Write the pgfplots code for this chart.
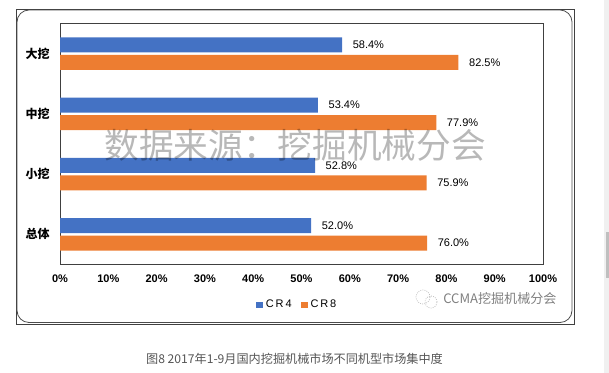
\documentclass[border=0pt]{standalone}
\usepackage{pgfplots}
\pgfplotsset{compat=1.18}
\usepackage{fontspec}
\setmainfont{Liberation Sans}
\newfontfamily\cjk{Noto Sans CJK SC}
\definecolor{cblue}{HTML}{4472C4}
\definecolor{corange}{HTML}{ED7D31}
\definecolor{frameC}{HTML}{404040}
\definecolor{capC}{HTML}{555555}
\begin{document}
\begin{tikzpicture}[x=0.75pt,y=0.75pt]
\useasboundingbox (0,0) rectangle (609,373);
% page scrollbar
\fill[black!6] (604,0) rectangle (609,373);
\fill[black!25] (606,95) rectangle (609,141);
% frame
\draw[frameC,line width=0.7pt] (16.5,49) rectangle (574.5,363.5);
\draw[black!70,line width=0.6pt,rounded corners=9pt] (17,50.5) rectangle (572,363);
\begin{axis}[
  at={(45pt,81.375pt)},anchor=south west,
  scale only axis,width=362.25pt,height=180.75pt,
  xmin=0,xmax=100,ymin=-0.5,ymax=3.5,
  y dir=reverse,
  xbar,bar width=11.25pt,
  axis line style={frameC,line width=0.7pt},
  tick style={draw=none},
  xtick={0,10,...,100},
  xticklabel={\pgfmathprintnumber[fixed,precision=0]{\tick}\%},
  ytick={0,1,2,3},
  yticklabels={大挖,中挖,小挖,总体},
  yticklabel style={font=\cjk\bfseries\fontsize{9}{10}\selectfont,xshift=0pt},
  xticklabel style={font=\bfseries\fontsize{8.25}{10}\selectfont,/pgf/number format/assume math mode=true,yshift=-4pt},
  /pgf/number format/assume math mode=true,
  nodes near coords={\pgfmathprintnumber[fixed,fixed zerofill,precision=1,assume math mode=true]{\pgfplotspointmeta}\%},
  every node near coord/.append style={font=\fontsize{8.25}{10}\selectfont,black,xshift=4.5pt},
  legend columns=2,
  legend style={at={(0.492,-0.168)},anchor=center,draw=none,fill=none,
    font=\fontsize{8.25}{10}\selectfont,/tikz/every even column/.append style={column sep=5pt}},
  legend image code/.code={\fill[#1] (0pt,-2.6pt) rectangle (5.25pt,2.6pt);},
]
\addplot+[bar shift=6.56pt,fill=cblue,draw=none] coordinates {(58.4,0) (53.4,1) (52.8,2) (52.0,3)};
\addlegendentry{C\,R\,4}
\addplot+[bar shift=-6.56pt,fill=corange,draw=none] coordinates {(82.5,0) (77.9,1) (75.9,2) (76.0,3)};
\addlegendentry{C\,R\,8}
\end{axis}
% watermark
\node[opacity=0.28,font=\cjk\fontsize{26}{28}\selectfont,anchor=center] at (295,228) {数据来源：挖掘机械分会};
% WeChat mark
\draw[black!25,densely dotted,line width=0.6pt] (423,76) circle (7);
\draw[black!25,densely dotted,line width=0.6pt] (431,71) circle (6);
\node[black!50,font=\cjk\fontsize{9.8}{10}\selectfont,anchor=west,inner sep=0pt] at (443,74) {CCMA挖掘机械分会};
% caption
\node[capC,font=\cjk\fontsize{9.1}{10}\selectfont,anchor=center,inner sep=0pt] at (294.5,14) {图8 2017年1-9月国内挖掘机械市场不同机型市场集中度};
\end{tikzpicture}
\end{document}
